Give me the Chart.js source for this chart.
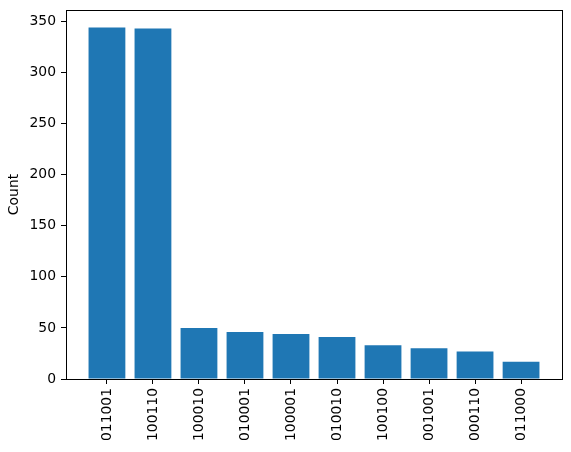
<!DOCTYPE html>
<html>
<head>
<meta charset="utf-8">
<script src="https://cdn.jsdelivr.net/npm/chart.js@4"></script>
<style>
html,body{margin:0;padding:0;background:#fff;}
#wrap{width:571px;height:452px;position:relative;}
</style>
</head>
<body>
<div id="wrap"><canvas id="c" width="571" height="452"></canvas></div>
<script>
const categories = ["011001","100110","100010","010001","100001","010010","100100","001001","000110","011000"];
const counts = [344, 343, 50, 46, 44, 41, 33, 30, 27, 17];
const yTicks = [0, 50, 100, 150, 200, 250, 300, 350];

const FONT = "'DejaVu Sans', sans-serif";
const boxPlugin = {
  id: 'box',
  afterDraw(chart) {
    const a = chart.chartArea, ctx = chart.ctx;
    ctx.save();
    ctx.strokeStyle = '#000';
    ctx.lineWidth = 1;
    ctx.strokeRect(Math.round(a.left) + 0.5, Math.round(a.top) + 0.5,
                   Math.round(a.right - a.left), Math.round(a.bottom - a.top));
    ctx.restore();
  }
};

const maxV = Math.max(...counts);
new Chart(document.getElementById('c'), {
  type: 'bar',
  data: {
    datasets: [{
      data: counts.map((v, i) => ({x: i, y: v})),
      backgroundColor: '#1f77b4',
      borderWidth: 0,
      barPercentage: 0.8,
      categoryPercentage: 1.0
    }]
  },
  options: {
    responsive: false,
    animation: false,
    devicePixelRatio: 1,
    layout: {padding: {left: 0, top: 10, right: 9, bottom: 0}},
    plugins: {legend: {display: false}, tooltip: {enabled: false}},
    scales: {
      x: {
        type: 'linear',
        min: -0.89,
        max: categories.length - 1 + 0.89,
        offset: false,
        afterBuildTicks(scale) {
          scale.ticks = categories.map((c, i) => ({value: i}));
        },
        afterFit(scale) { scale.height = 73; scale.paddingLeft = 0; scale.paddingRight = 0; },
        grid: {offset: false, display: true, drawOnChartArea: false, drawTicks: true, tickLength: 5, tickColor: '#000', tickWidth: 1, color: '#000', lineWidth: 1},
        border: {display: true, color: '#000', width: 1},
        ticks: {
          autoSkip: false,
          maxRotation: 90,
          minRotation: 90,
          padding: 4,
          color: '#000',
          font: {family: FONT, size: 13.9},
          callback: (v) => categories[v] !== undefined ? categories[v] : ''
        }
      },
      y: {
        min: 0,
        max: maxV * 1.05,
        afterBuildTicks(scale) {
          scale.ticks = yTicks.map(v => ({value: v}));
        },
        afterFit(scale) { scale.width = 66; scale.paddingTop = 0; scale.paddingBottom = 0; },
        grid: {offset: false, drawOnChartArea: false, drawTicks: true, tickLength: 5, tickColor: '#000', tickWidth: 1},
        border: {display: true, color: '#000', width: 1},
        ticks: {
          padding: 5,
          color: '#000',
          font: {family: FONT, size: 13.9}
        },
        title: {
          display: true,
          text: 'Count',
          color: '#000',
          font: {family: FONT, size: 13.9},
          padding: {top: 6, bottom: 0}
        }
      }
    }
  },
  plugins: [boxPlugin]
});
</script>
</body>
</html>
